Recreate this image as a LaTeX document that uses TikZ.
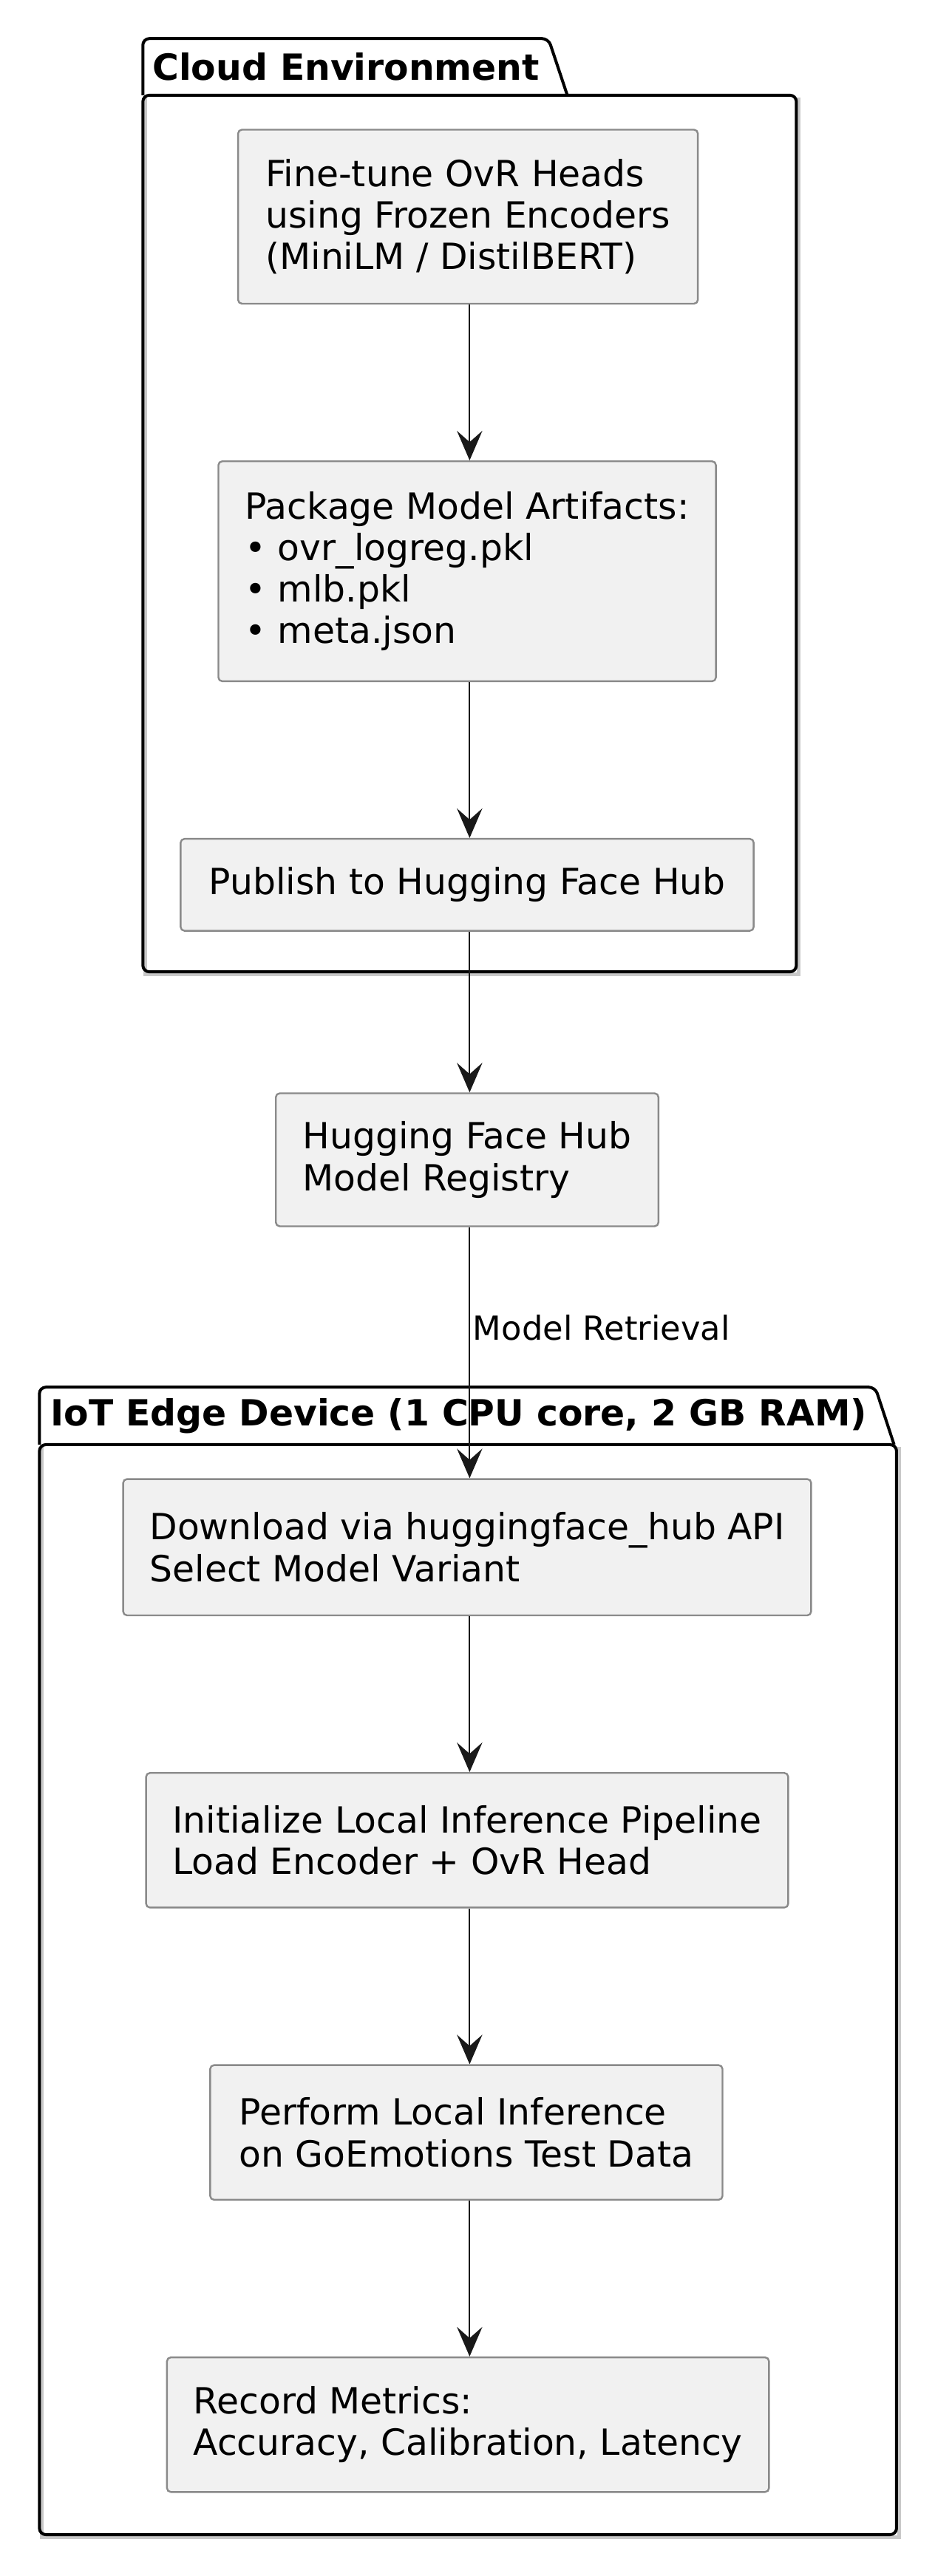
\documentclass[tikz,border=0pt]{standalone}
\usepackage{fontspec}
\setmainfont{DejaVu Sans}
\usetikzlibrary{arrows.meta}
\definecolor{boxfill}{HTML}{F1F1F1}
\definecolor{boxline}{HTML}{8A8A8A}
\definecolor{shadowc}{HTML}{C8C8C8}
\tikzset{
  stepbox/.style={draw=boxline, fill=boxfill, line width=0.6pt, rounded corners=1.3pt,
    align=left, inner xsep=8.9pt, inner ysep=0pt, anchor=center,
    font=\fontsize{12.2}{14.05}\selectfont},
  arr/.style={draw=black!90, line width=0.5pt, -{Stealth[length=10pt, width=8.6pt, inset=3.8pt]}},
  pkg/.style={draw=black, line width=1pt, line join=round},
  pkgshadow/.style={draw=shadowc, line width=1.2pt},
  pkgtitle/.style={font=\fontsize{12.2}{14}\selectfont\bfseries, anchor=west, inner sep=0pt},
  lbl/.style={font=\fontsize{11.2}{13}\selectfont, anchor=west, inner sep=0pt}
}
\begin{document}
\begin{tikzpicture}[x=0.5554pt, y=-0.5554pt]
\useasboundingbox (0,0) rectangle (569,1569.2);
\fill[white] (0,0) rectangle (569,1569.2);

% Cloud package
\draw[pkgshadow] (88.5,59.5) -- (88.5,593.5) -- (486.5,593.5) -- (486.5,59.5);
\draw[pkg, rounded corners=2.2pt] (87,58) -- (87,23.5) -- (334,23.5) -- (345.5,58);
\draw[pkg, rounded corners=2.2pt] (87,58) -- (485,58) -- (485,592) -- (87,592) -- cycle;
\node[pkgtitle] (cloudtitle) at (92.5,40.5) {Cloud Environment};

% IoT package
\draw[pkgshadow] (25.5,881.5) -- (25.5,1545.5) -- (547.5,1545.5) -- (547.5,881.5);
\draw[pkg, rounded corners=2.2pt] (24,880) -- (24,845) -- (533,845) -- (544.5,880);
\draw[pkg, rounded corners=2.2pt] (24,880) -- (546,880) -- (546,1544) -- (24,1544) -- cycle;
\node[pkgtitle] (iottitle) at (30.5,862.5) {IoT Edge Device (1 CPU core, 2 GB RAM)};

% Steps
\node[stepbox, minimum width=280*0.5554pt, minimum height=106*0.5554pt] (finetune) at (285,132)
  {Fine-tune OvR Heads\\using Frozen Encoders\\(MiniLM / DistilBERT)};
\node[stepbox, minimum width=303*0.5554pt, minimum height=134*0.5554pt] (package) at (284.5,348)
  {Package Model Artifacts:\\• ovr\_logreg.pkl\\• mlb.pkl\\• meta.json};
\node[stepbox, minimum width=349*0.5554pt, minimum height=56*0.5554pt] (publish) at (284.5,539)
  {Publish to Hugging Face Hub};
\node[stepbox, minimum width=233*0.5554pt, minimum height=81*0.5554pt] (hub) at (284.5,706.5)
  {Hugging Face Hub\\Model Registry};
\node[stepbox, minimum width=419*0.5554pt, minimum height=83*0.5554pt] (download) at (284.5,942.5)
  {Download via huggingface\_hub API\\Select Model Variant};
\node[stepbox, minimum width=391*0.5554pt, minimum height=82*0.5554pt] (init) at (284.5,1121)
  {Initialize Local Inference Pipeline\\Load Encoder + OvR Head};
\node[stepbox, minimum width=312*0.5554pt, minimum height=82*0.5554pt] (perform) at (284,1299)
  {Perform Local Inference\\on GoEmotions Test Data};
\node[stepbox, minimum width=366*0.5554pt, minimum height=82*0.5554pt] (record) at (285,1477)
  {Record Metrics:\\Accuracy, Calibration, Latency};

% Connectors
\coordinate (a1) at (286,185);
\draw[arr] (finetune.south -| a1) -- (package.north -| a1);
\draw[arr] (package.south -| a1) -- (publish.north -| a1);
\draw[arr] (publish.south -| a1) -- (hub.north -| a1);
\draw[arr] (hub.south -| a1) -- node[lbl, pos=0.40, xshift=0.9pt] (retrieval) {Model Retrieval} (download.north -| a1);
\draw[arr] (download.south -| a1) -- (init.north -| a1);
\draw[arr] (init.south -| a1) -- (perform.north -| a1);
\draw[arr] (perform.south -| a1) -- (record.north -| a1);
\end{tikzpicture}
\end{document}
